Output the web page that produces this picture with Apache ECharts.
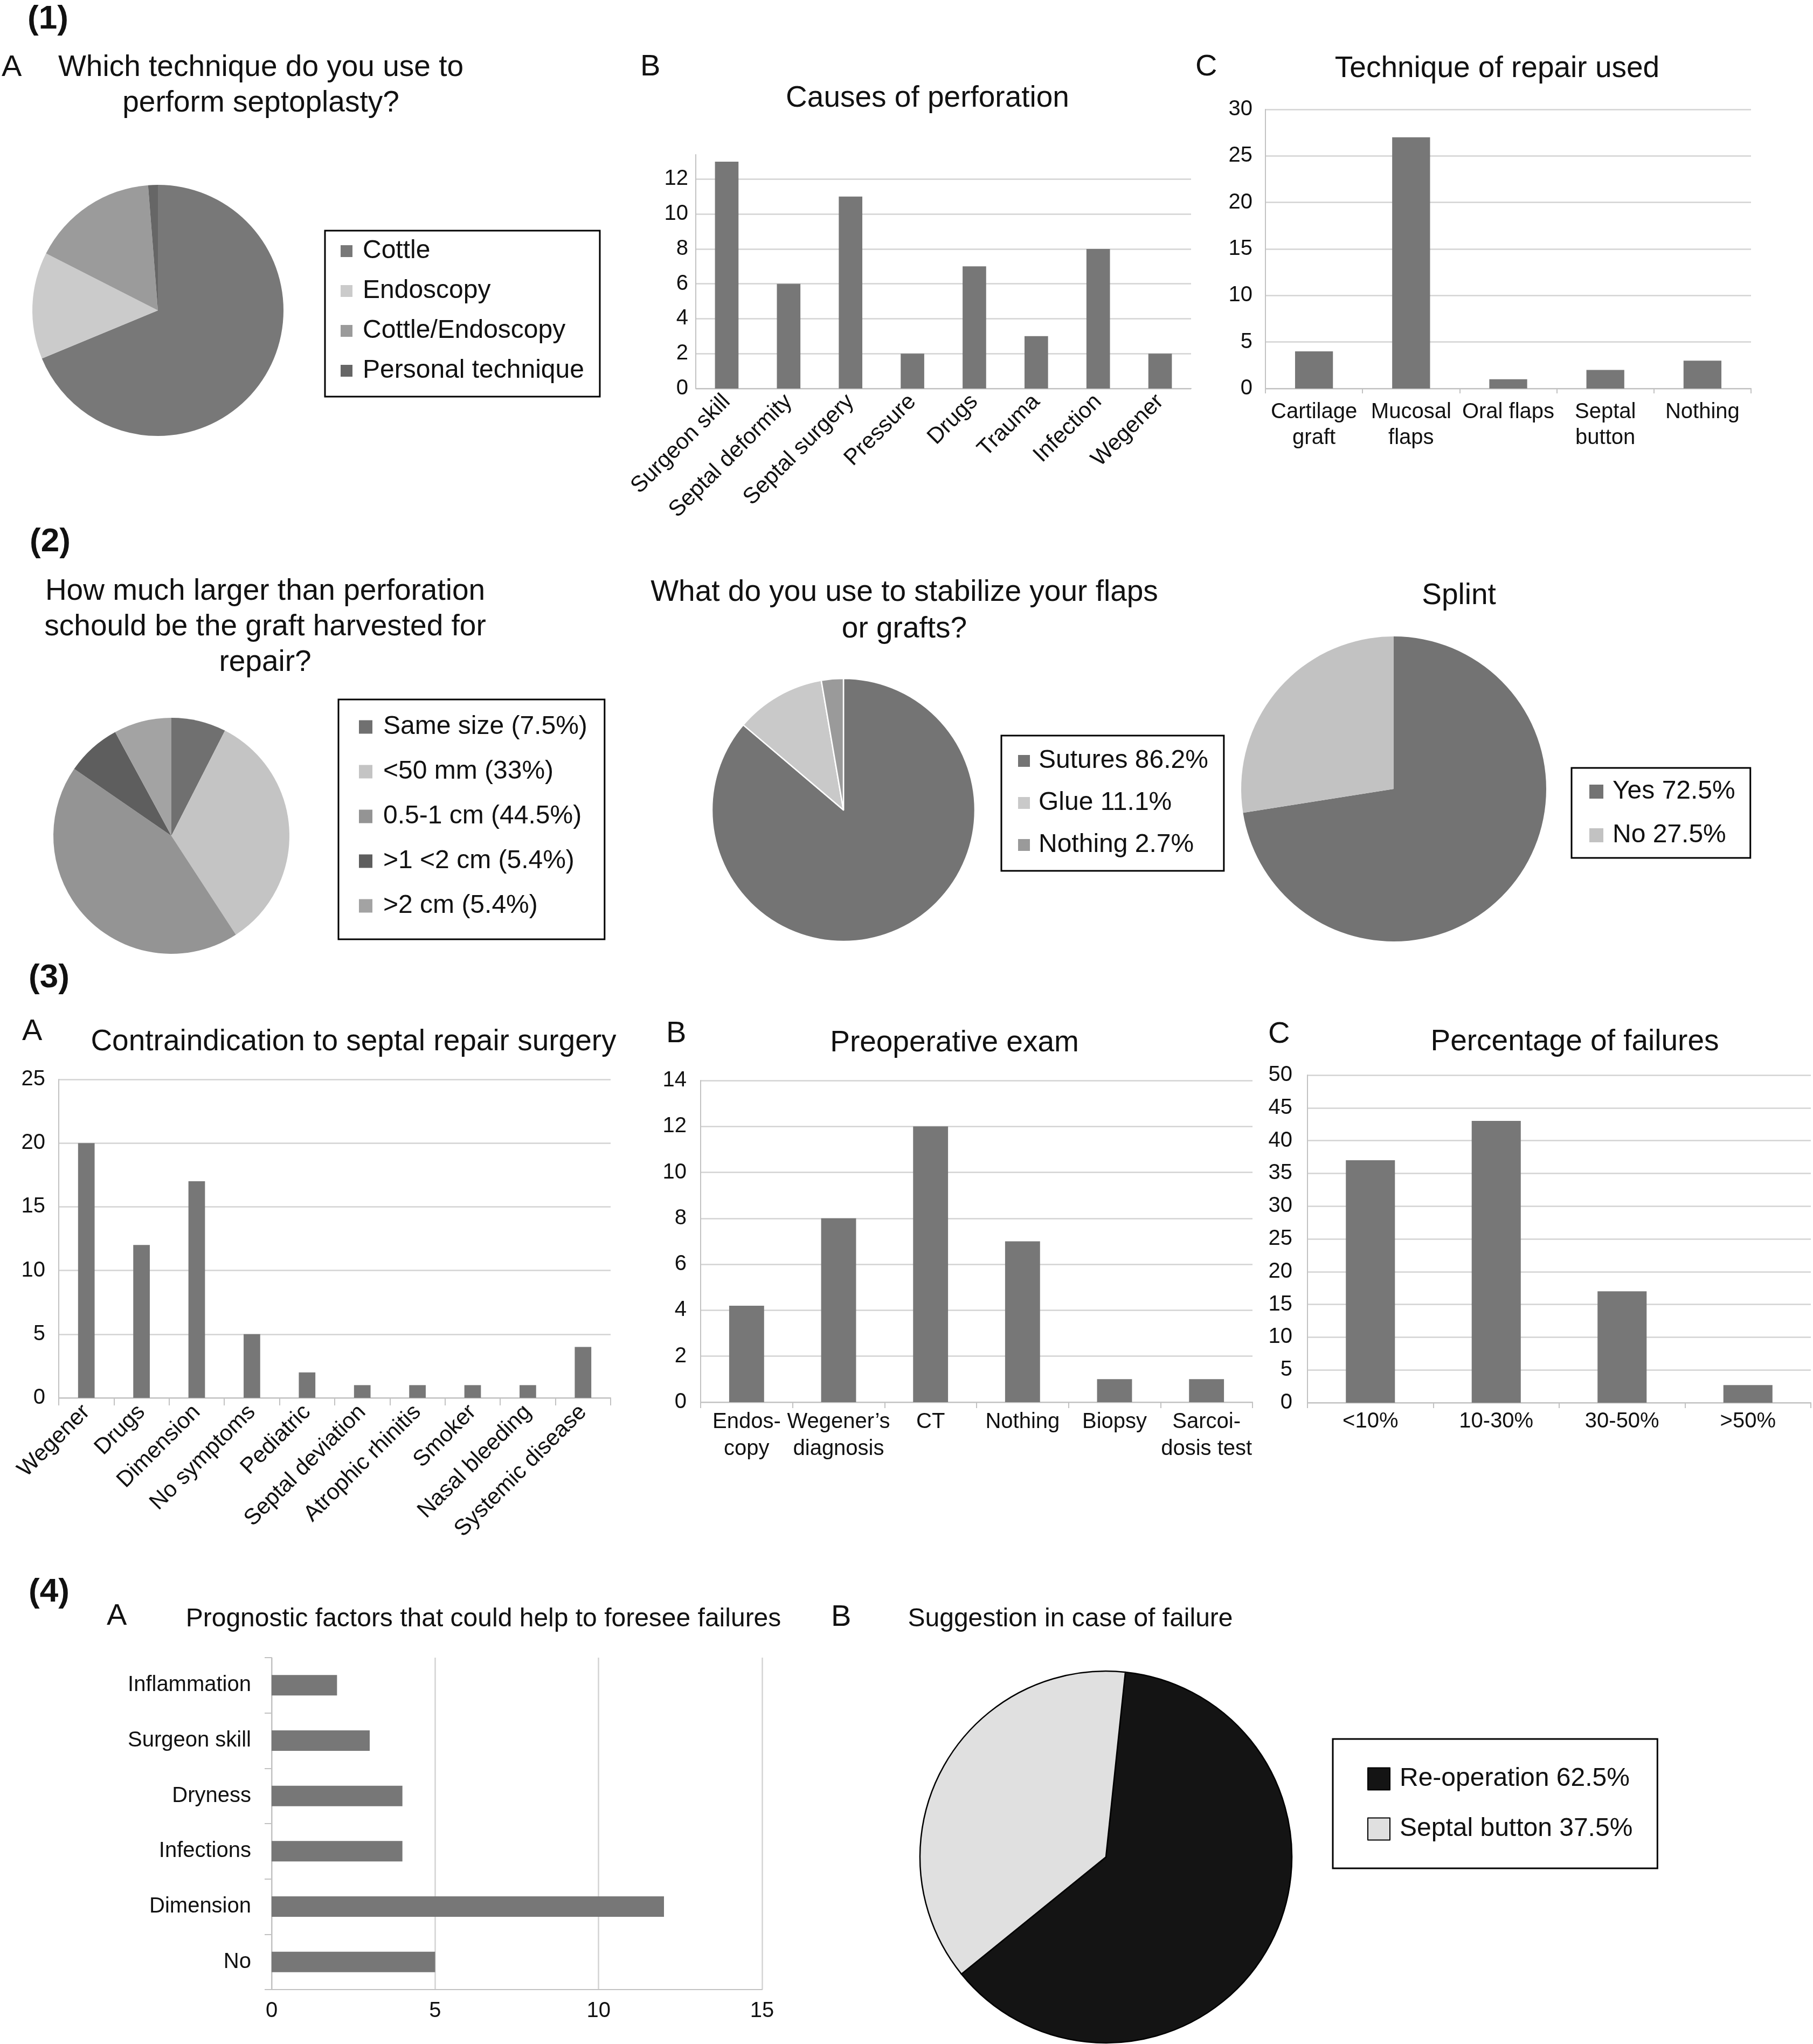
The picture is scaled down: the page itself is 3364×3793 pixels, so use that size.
<!DOCTYPE html>
<html>
<head>
<meta charset="utf-8">
<style>
html,body{margin:0;padding:0;background:#ffffff;}
#chart{width:3364px;height:3793px;}
</style>
<script src="https://cdn.jsdelivr.net/npm/echarts@6/dist/echarts.min.js"></script>
</head>
<body>
<div id="chart"></div>
<script>
// ---------------- DATA ----------------
const techniqueNames = ['Cottle', 'Endoscopy', 'Cottle/Endoscopy', 'Personal technique'];
const techniqueValues = [55, 11, 13, 1];

const causesCategories = ['Surgeon skill', 'Septal deformity', 'Septal surgery', 'Pressure', 'Drugs', 'Trauma', 'Infection', 'Wegener'];
const causesValues = [13, 6, 11, 2, 7, 3, 8, 2];

const repairCategories = ['Cartilage\ngraft', 'Mucosal\nflaps', 'Oral flaps', 'Septal\nbutton', 'Nothing'];
const repairValues = [4, 27, 1, 2, 3];

const graftNames = ['Same size (7.5%)', '<50 mm (33%)', '0.5-1 cm (44.5%)', '>1 <2 cm (5.4%)', '>2 cm (5.4%)'];
const graftValues = [7.5, 33.3, 43.8, 7.5, 7.9];

const stabilizeNames = ['Sutures 86.2%', 'Glue 11.1%', 'Nothing 2.7%'];
const stabilizeValues = [86.2, 11.1, 2.7];

const splintNames = ['Yes 72.5%', 'No 27.5%'];
const splintValues = [72.5, 27.5];

const contraCategories = ['Wegener', 'Drugs', 'Dimension', 'No symptoms', 'Pediatric', 'Septal deviation', 'Atrophic rhinitis', 'Smoker', 'Nasal bleeding', 'Systemic disease'];
const contraValues = [20, 12, 17, 5, 2, 1, 1, 1, 1, 4];

const preopCategories = ['Endos-\ncopy', 'Wegener\u2019s\ndiagnosis', 'CT', 'Nothing', 'Biopsy', 'Sarcoi-\ndosis test'];
const preopValues = [4.2, 8, 12, 7, 1, 1];

const failureCategories = ['<10%', '10-30%', '30-50%', '>50%'];
const failureValues = [37, 43, 17, 2.7];

const prognosticCategories = ['Inflammation', 'Surgeon skill', 'Dryness', 'Infections', 'Dimension', 'No'];
const prognosticValues = [2, 3, 4, 4, 12, 5];

const suggestionNames = ['Re-operation 62.5%', 'Septal button 37.5%'];
const suggestionValues = [62.5, 37.5];

// ---------------- STYLE ----------------
const FONT = '"Liberation Sans", Arial, Helvetica, sans-serif';
const TXT = '#111111';
const GRIDC = '#d3d3d3';
const AXISC = '#c2c2c2';
const BARC = '#777777';

const techniqueColors = ['#787878', '#cbcbcb', '#9b9b9b', '#666666'];
const graftColors = ['#707070', '#c4c4c4', '#949494', '#5e5e5e', '#a3a3a3'];
const stabilizeColors = ['#747474', '#c9c9c9', '#9a9a9a'];
const splintColors = ['#737373', '#c2c2c2'];
const suggestionColors = ['#141414', '#e0e0e0'];

// ---------------- BUILD ----------------
const graphics = [];
function txt(text, x, y, size, o) {
  o = o || {};
  graphics.push({
    type: 'text', x: x, y: y, silent: true,
    style: {
      text: text, fill: TXT, fontSize: size, fontFamily: FONT,
      fontWeight: o.bold ? 'bold' : 'normal',
      align: o.align || 'center', verticalAlign: 'middle',
      lineHeight: o.lh || Math.round(size * 1.2)
    }
  });
}

// panel numbers
txt('(1)', 51, 36, 62, {bold: true, align: 'left'});
txt('(2)', 55, 1006, 62, {bold: true, align: 'left'});
txt('(3)', 53, 1815, 62, {bold: true, align: 'left'});
txt('(4)', 53, 2955, 62, {bold: true, align: 'left'});
// panel letters
txt('A', 3, 126, 56, {align: 'left'});
txt('B', 1188, 125, 56, {align: 'left'});
txt('C', 2218, 125, 56, {align: 'left'});
txt('A', 41, 1915, 56, {align: 'left'});
txt('B', 1236, 1919, 56, {align: 'left'});
txt('C', 2353, 1920, 56, {align: 'left'});
txt('A', 198, 3000, 56, {align: 'left'});
txt('B', 1542, 3002, 56, {align: 'left'});
// titles
txt('Which technique do you use to\nperform septoplasty?', 484, 159, 55, {lh: 66});
txt('Causes of perforation', 1721, 183, 55);
txt('Technique of repair used', 2778, 128, 55);
txt('How much larger than perforation\nschould be the graft harvested for\nrepair?', 492, 1164, 55, {lh: 66});
txt('What do you use to stabilize your flaps\nor grafts?', 1678, 1134, 55, {lh: 68});
txt('Splint', 2707, 1106, 55);
txt('Contraindication to septal repair surgery', 656, 1934, 55);
txt('Preoperative exam', 1771, 1936, 55);
txt('Percentage of failures', 2922, 1934, 55);
txt('Prognostic factors that could help to foresee failures', 897, 3005, 48);
txt('Suggestion in case of failure', 1986, 3005, 48);

const grids = [], xAxes = [], yAxes = [], series = [], legends = [];

function labelStyle(size, extra) {
  return Object.assign({color: TXT, fontSize: size, fontFamily: FONT}, extra || {});
}

function barPanel(g, cats, vals, cfg) {
  const idx = grids.length;
  grids.push({left: g[0], top: g[1], width: g[2], height: g[3], outerBoundsMode: 'none', containLabel: false});
  xAxes.push({
    type: 'category', gridIndex: idx, data: cats,
    axisLine: {show: true, lineStyle: {color: AXISC, width: 2}},
    axisTick: {show: !!cfg.tick, length: cfg.tick || 0, lineStyle: {color: AXISC, width: 2}},
    axisLabel: labelStyle(cfg.xFont || 40, {interval: 0, rotate: cfg.rotate || 0, margin: cfg.xMargin, lineHeight: cfg.xLine || 48}),
    splitLine: {show: false}
  });
  const yLab = labelStyle(40, {margin: cfg.yMargin});
  const ySplit = {show: true, lineStyle: {color: GRIDC, width: 2.5}};
  if (cfg.hideMax) { yLab.showMaxLabel = false; ySplit.showMaxLine = false; }
  yAxes.push({
    type: 'value', gridIndex: idx, min: 0, max: cfg.max, interval: cfg.interval,
    axisLine: {show: true, lineStyle: {color: AXISC, width: 2}},
    axisTick: {show: false},
    axisLabel: yLab,
    splitLine: ySplit
  });
  series.push({
    type: 'bar', xAxisIndex: idx, yAxisIndex: idx, data: vals, barWidth: cfg.barWidth,
    itemStyle: {color: BARC}, silent: true
  });
}

// (1)B
barPanel([1291, 287, 919, 434], causesCategories, causesValues,
  {max: 13.4, interval: 2, hideMax: true, rotate: 45, xFont: 42, xMargin: 18, yMargin: 14, barWidth: '38%'});
// (1)C
barPanel([2348, 203, 901, 518], repairCategories, repairValues,
  {max: 30, interval: 5, tick: 9, xMargin: 20, xLine: 48, yMargin: 24, barWidth: '39%'});
// (3)A
barPanel([109, 2003, 1024, 591], contraCategories, contraValues,
  {max: 25, interval: 5, tick: 14, rotate: 45, xFont: 42, xMargin: 20, yMargin: 25, barWidth: '30%'});
// (3)B
barPanel([1300, 2005, 1024, 597], preopCategories, preopValues,
  {max: 14, interval: 2, tick: 11, xMargin: 12, xLine: 50, yMargin: 26, barWidth: '38%'});
// (3)C
barPanel([2426, 1995, 934, 608], failureCategories, failureValues,
  {max: 50, interval: 5, tick: 10, xMargin: 15, xLine: 40, yMargin: 28, barWidth: '39%'});

// (4)A horizontal bars
(function () {
  const idx = grids.length;
  grids.push({left: 504, top: 3076, width: 910, height: 616, outerBoundsMode: 'none', containLabel: false});
  xAxes.push({
    type: 'value', gridIndex: idx, min: 0, max: 15, interval: 5,
    axisLine: {show: true, lineStyle: {color: AXISC, width: 2}},
    axisTick: {show: false},
    axisLabel: labelStyle(40, {margin: 20}),
    splitLine: {show: true, lineStyle: {color: GRIDC, width: 2.5}}
  });
  yAxes.push({
    type: 'category', gridIndex: idx, data: prognosticCategories, inverse: true,
    axisLine: {show: true, lineStyle: {color: AXISC, width: 2}},
    axisTick: {show: true, length: 13, lineStyle: {color: AXISC, width: 2}},
    axisLabel: labelStyle(40, {interval: 0, margin: 38}),
    splitLine: {show: false}
  });
  series.push({
    type: 'bar', xAxisIndex: idx, yAxisIndex: idx, data: prognosticValues, barWidth: '37%',
    itemStyle: {color: BARC}, silent: true
  });
})();

// pies
function pie(names, vals, colors, center, r, opt) {
  opt = opt || {};
  series.push({
    type: 'pie', center: center, radius: r, startAngle: opt.start == null ? 90 : opt.start,
    clockwise: true, silent: true, animation: false,
    label: {show: false}, labelLine: {show: false},
    itemStyle: {borderColor: opt.borderColor || '#ffffff', borderWidth: opt.borderWidth || 0},
    emphasis: {disabled: true},
    data: names.map(function (n, i) { return {name: n, value: vals[i], itemStyle: {color: colors[i]}}; })
  });
}
pie(techniqueNames, techniqueValues, techniqueColors, [293, 576], 233);
pie(graftNames, graftValues, graftColors, [318, 1551], 219);
pie(stabilizeNames, stabilizeValues, stabilizeColors, [1565, 1503], 244, {borderColor: '#ffffff', borderWidth: 2.5});
pie(splintNames, splintValues, splintColors, [2586, 1464], 283);
pie(suggestionNames, suggestionValues, suggestionColors, [2052, 3446], 345, {start: 84, borderColor: '#000000', borderWidth: 2.5});

// legends
function legend(names, pos, pad, gap, size, textGap, itemBorder) {
  legends.push({
    data: names, orient: 'vertical', left: pos[0], top: pos[1],
    padding: pad, itemGap: gap, itemWidth: size, itemHeight: size, icon: 'rect',
    borderColor: '#000000', borderWidth: 3, backgroundColor: '#ffffff',
    selectedMode: false,
    itemStyle: itemBorder ? {borderColor: '#000000', borderWidth: 2} : {borderWidth: 0},
    textStyle: {color: TXT, fontSize: 48, lineHeight: 48, fontFamily: FONT, padding: [0, 0, 0, textGap - 5]}
  });
}
legend(techniqueNames, [603, 428], [14, 29, 24, 29], 26, 22, 19, false);
legend(graftNames, [628, 1298], [27, 32, 38, 38], 35, 25, 20, false);
legend(stabilizeNames, [1858, 1365], [23, 29, 24, 31], 30, 22, 16, false);
legend(splintNames, [2916, 1425], [20, 28, 18, 33], 33, 26, 17, false);
legend(suggestionNames, [2473, 3227], [50, 46, 49, 64], 45, 41, 18, true);

const chart = echarts.init(document.getElementById('chart'), null, {renderer: 'canvas', width: 3364, height: 3793});
chart.setOption({
  animation: false,
  backgroundColor: '#ffffff',
  textStyle: {fontFamily: FONT, color: TXT},
  grid: grids,
  xAxis: xAxes,
  yAxis: yAxes,
  legend: legends,
  series: series,
  graphic: graphics
});
</script>
</body>
</html>
